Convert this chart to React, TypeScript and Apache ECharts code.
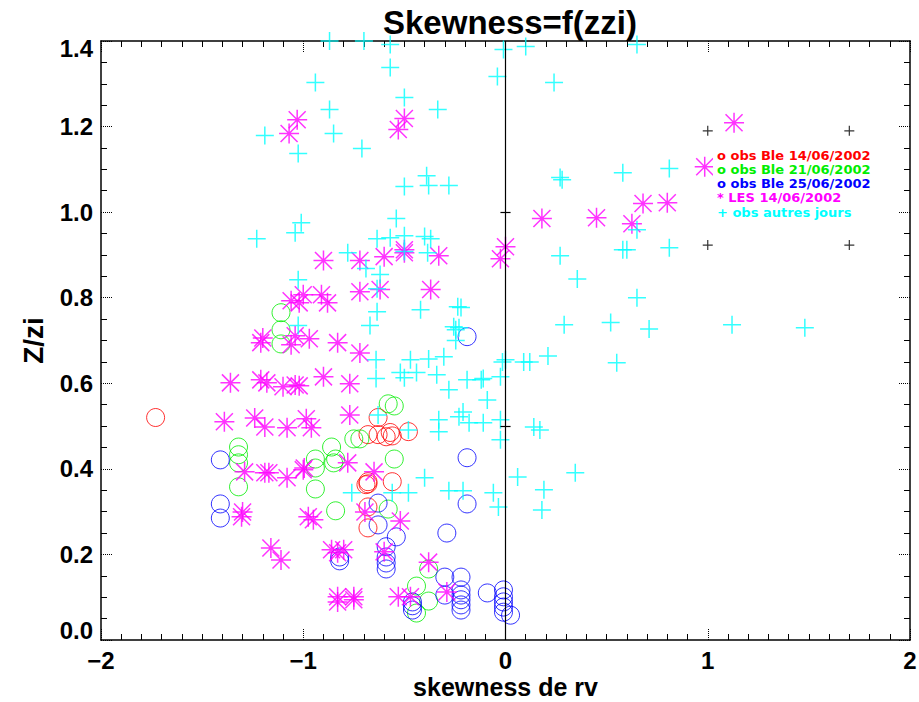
import React, { useEffect, useRef } from 'react';
import * as echarts from 'echarts';

const TITLE = 'Skewness=f(zzi)';
const X_NAME = 'skewness de rv';
const Y_NAME = 'Z/zi';
const X_MIN = -2, X_MAX = 2, X_STEP = 1;
const Y_MIN = 0, Y_MAX = 1.4, Y_STEP = 0.2;

const obsBle14: number[][] = [
  [-1.73, 0.52], [-0.63, 0.52], [-0.68, 0.48], [-0.63, 0.48], [-0.57, 0.485], [-0.56, 0.477],
  [-0.59, 0.475], [-0.48, 0.487], [-0.68, 0.37], [-0.69, 0.363], [-0.68, 0.365], [-0.56, 0.37],
  [-0.68, 0.311], [-0.68, 0.262],
];

const obsBle21: number[][] = [
  [-1.11, 0.765], [-1.11, 0.725], [-1.11, 0.692], [-1.32, 0.451], [-1.32, 0.433], [-1.32, 0.414],
  [-1.32, 0.358], [-0.94, 0.423], [-0.94, 0.402], [-0.94, 0.353], [-0.86, 0.451], [-0.84, 0.423],
  [-0.85, 0.414], [-0.84, 0.302], [-0.75, 0.47], [-0.72, 0.47], [-0.58, 0.552], [-0.55, 0.547],
  [-0.55, 0.423], [-0.58, 0.306], [-0.38, 0.166], [-0.44, 0.126], [-0.38, 0.091], [-0.44, 0.063],
];

const obsBle25: number[][] = [
  [-1.41, 0.421], [-1.41, 0.318], [-1.41, 0.285], [-0.19, 0.709], [-0.19, 0.426], [-0.19, 0.318],
  [-0.29, 0.25], [-0.63, 0.32], [-0.63, 0.269], [-0.54, 0.241], [-0.59, 0.218], [-0.59, 0.194],
  [-0.59, 0.18], [-0.59, 0.166], [-0.82, 0.194], [-0.82, 0.185], [-0.3, 0.147], [-0.22, 0.147],
  [-0.3, 0.105], [-0.22, 0.117], [-0.22, 0.105], [-0.22, 0.094], [-0.22, 0.082], [-0.22, 0.07],
  [-0.09, 0.11], [-0.01, 0.117], [-0.01, 0.101], [-0.01, 0.089], [-0.01, 0.077], [-0.01, 0.065],
  [0.025, 0.058], [-0.46, 0.089], [-0.46, 0.08], [-0.46, 0.07],
];

const les14: number[][] = [
  [-1.03, 1.216], [-1.07, 1.184], [-0.5, 1.219], [-0.53, 1.193], [-0.9, 0.887], [-0.72, 0.887],
  [-0.6, 0.896], [-0.5, 0.912], [-0.5, 0.905], [-0.33, 0.898], [0.0, 0.919], [-0.025, 0.891],
  [-1.06, 0.793], [-1.02, 0.788], [-1.0, 0.807], [-0.91, 0.807], [-0.88, 0.788], [-0.72, 0.814],
  [-0.62, 0.819], [-0.37, 0.819], [-1.2, 0.706], [-1.21, 0.695], [-1.04, 0.711], [-1.06, 0.69],
  [-0.97, 0.704], [-0.83, 0.695], [-0.72, 0.671], [-1.36, 0.601], [-1.21, 0.608], [-1.18, 0.601],
  [-1.1, 0.592], [-1.04, 0.596], [-1.02, 0.594], [-0.9, 0.615], [-0.77, 0.599], [-1.39, 0.51],
  [-1.24, 0.519], [-1.19, 0.498], [-1.08, 0.496], [-0.985, 0.517], [-0.96, 0.496], [-0.77, 0.526],
  [-1.29, 0.393], [-1.19, 0.391], [-1.17, 0.391], [-1.08, 0.379], [-1.0, 0.398], [-0.995, 0.402],
  [-0.78, 0.414], [-0.65, 0.393], [-1.3, 0.299], [-1.305, 0.288], [-0.975, 0.288], [-0.95, 0.281],
  [-0.695, 0.299], [-0.52, 0.278], [-1.16, 0.215], [-1.11, 0.187], [-0.86, 0.211], [-0.83, 0.204],
  [-0.8, 0.211], [-0.6, 0.206], [-0.38, 0.182], [-0.83, 0.101], [-0.75, 0.101], [-0.83, 0.089],
  [-0.75, 0.094], [-0.53, 0.101], [-0.47, 0.101], [-0.29, 0.112], [0.18, 0.985], [0.45, 0.987],
  [0.68, 1.02], [0.8, 1.022], [0.625, 0.973], [0.985, 1.106], [1.13, 1.209],
];

const autresJours: number[][] = [
  [-0.87, 1.4], [-0.7, 1.4], [-0.57, 1.392], [-0.57, 1.338], [-0.01, 1.38], [-0.04, 1.317],
  [0.1, 1.387], [0.65, 1.392], [0.24, 1.303], [-0.94, 1.303], [-0.5, 1.268], [-0.87, 1.24],
  [-0.335, 1.24], [-1.19, 1.179], [-0.85, 1.184], [-1.025, 1.137], [-0.71, 1.149], [-0.39, 1.085],
  [-0.5, 1.06], [-0.38, 1.062], [-0.28, 1.062], [-1.01, 0.975], [-1.04, 0.952], [-1.23, 0.938],
  [-0.54, 0.985], [-0.78, 0.905], [-0.635, 0.938], [-0.57, 0.94], [-0.5, 0.945], [-0.4, 0.943],
  [-0.37, 0.938], [-0.5, 0.908], [-0.385, 0.905], [-0.69, 0.868], [-0.62, 0.854], [-1.025, 0.842],
  [-0.635, 0.821], [-0.635, 0.767], [-0.42, 0.772], [-0.236, 0.779], [-0.22, 0.777], [-0.67, 0.735],
  [-1.025, 0.735], [-0.256, 0.732], [-0.23, 0.73], [-0.246, 0.7], [-0.246, 0.725], [-0.64, 0.655],
  [-0.64, 0.611], [-0.47, 0.655], [-0.38, 0.657], [-0.305, 0.662], [-0.52, 0.625], [-0.5, 0.613],
  [-0.44, 0.625], [-0.34, 0.62], [-0.19, 0.608], [-0.12, 0.608], [-0.11, 0.611], [-0.025, 0.615],
  [-0.015, 0.65], [-0.28, 0.585], [-0.09, 0.561], [-0.63, 0.526], [-0.48, 0.491], [-0.33, 0.515],
  [-0.33, 0.487], [-0.23, 0.522], [-0.21, 0.533], [-0.18, 0.508], [-0.11, 0.508], [-0.025, 0.515],
  [-0.025, 0.468], [-0.4, 0.379], [0.06, 0.381], [-0.76, 0.344], [-0.56, 0.344], [-0.48, 0.344],
  [-0.28, 0.349], [-0.21, 0.349], [-0.06, 0.344], [-0.035, 0.311], [0.27, 1.081], [0.28, 1.076],
  [0.58, 1.092], [0.81, 1.102], [0.27, 0.898], [0.58, 0.912], [0.6, 0.912], [0.65, 0.959],
  [0.81, 0.917], [0.355, 0.844], [0.65, 0.8], [0.29, 0.737], [0.52, 0.742], [0.71, 0.727],
  [1.12, 0.737], [1.48, 0.73], [0.21, 0.664], [0.09, 0.65], [0.12, 0.65], [0.0, 0.655],
  [0.55, 0.648], [0.17, 0.491], [0.14, 0.498], [0.19, 0.351], [0.18, 0.304], [0.345, 0.391],
];

const legendCorners: number[][] = [[1.0, 1.19], [1.7, 1.19], [1.0, 0.923], [1.7, 0.923]];
const zeroAxisTicks: number[] = [0.5, 1.0];

const legendLines = [
  { text: 'o obs Ble 14/06/2002', color: '#ff0000' },
  { text: 'o obs Ble 21/06/2002', color: '#00ee00' },
  { text: 'o obs Ble 25/06/2002', color: '#0000ff' },
  { text: '* LES 14/06/2002', color: '#ff00ff' },
  { text: '+ obs autres jours', color: '#00ffff' },
];

const FONT = "'Liberation Sans', Arial, sans-serif";
const PLUS = 'path://M10,0 L10,20 M0,10 L20,10';
const STAR = 'path://M10,0 L10,20 M0,10 L20,10 M1.5,1.5 L18.5,18.5 M1.5,18.5 L18.5,1.5';

export default function App() {
  const ref = useRef<HTMLDivElement>(null);
  useEffect(() => {
    if (!ref.current) return;
    const chart = echarts.init(ref.current, null, { renderer: 'svg' });
    const tickStyle = { color: '#000', width: 1 };
    const baseX = {
      type: 'value', min: X_MIN, max: X_MAX, interval: X_STEP,
      splitLine: { show: false },
      axisLine: { show: true, onZero: false, lineStyle: { color: '#000', width: 1.5 } },
      axisTick: { show: true, inside: true, length: 12, lineStyle: { color: '#000', width: 1, type: 'dotted' } },
      minorTick: { show: true, splitNumber: 10, length: 6, lineStyle: tickStyle },
    };
    const baseY = {
      type: 'value', min: Y_MIN, max: Y_MAX, interval: Y_STEP,
      splitLine: { show: false },
      axisLine: { show: true, onZero: false, lineStyle: { color: '#000', width: 1.5 } },
      axisTick: { show: true, inside: true, length: 12, lineStyle: { color: '#000', width: 1, type: 'dotted' } },
      minorTick: { show: true, splitNumber: 4, length: 6, lineStyle: tickStyle },
    };
    const labelStyle = { color: '#000', fontFamily: FONT, fontWeight: 'bold', fontSize: 24 };
    const option: any = {
      animation: false,
      backgroundColor: '#ffffff',
      title: {
        text: TITLE, left: 505, top: 1, textAlign: 'center',
        textStyle: { color: '#000', fontFamily: FONT, fontWeight: 'bold', fontSize: 33 },
      },
      grid: { left: 101, right: 9, top: 41, bottom: 62, outerBoundsMode: 'none', containLabel: false },
      xAxis: [
        {
          ...baseX, position: 'bottom',
          axisLabel: {
            ...labelStyle, margin: 9, lineHeight: 22,
            formatter: (v: number) => (v < 0 ? '\u2212' + Math.abs(v) : String(v)),
          },
          name: X_NAME, nameLocation: 'middle', nameGap: 35, nameMoveOverlap: false,
          nameTextStyle: { ...labelStyle, fontSize: 25, lineHeight: 24 },
        },
        { ...baseX, position: 'top', axisLabel: { show: false } },
      ],
      yAxis: [
        {
          ...baseY, position: 'left',
          axisLabel: {
            ...labelStyle, margin: 8,
            formatter: (v: number) => {
              const s = v.toFixed(1);
              if (v >= Y_MAX - 1e-9) return '{hi|' + s + '}';
              if (v <= Y_MIN + 1e-9) return '{lo|' + s + '}';
              return s;
            },
            rich: {
              hi: { ...labelStyle, padding: [14, 0, 0, 0] },
              lo: { ...labelStyle, padding: [0, 0, 20, 0] },
            },
          },
          name: Y_NAME, nameLocation: 'middle', nameGap: 54, nameRotate: 90, nameMoveOverlap: false,
          nameTextStyle: { ...labelStyle, fontSize: 28 },
        },
        { ...baseY, position: 'right', axisLabel: { show: false } },
      ],
      series: [
        {
          type: 'scatter', name: 'obs Ble 14/06/2002', data: obsBle14, symbol: 'circle', symbolSize: 18,
          itemStyle: { color: 'transparent', borderColor: '#ff0000', borderWidth: 1 },
          markLine: {
            silent: true, symbol: 'none', animation: false, label: { show: false },
            lineStyle: { color: '#000', width: 1.2, type: 'solid' },
            data: [
              { xAxis: 0 },
              ...zeroAxisTicks.map((t) => [{ coord: [-0.025, t] }, { coord: [0.025, t] }]),
            ],
          },
        },
        {
          type: 'scatter', name: 'obs Ble 21/06/2002', data: obsBle21, symbol: 'circle', symbolSize: 18,
          itemStyle: { color: 'transparent', borderColor: '#00ee00', borderWidth: 1 },
        },
        {
          type: 'scatter', name: 'obs Ble 25/06/2002', data: obsBle25, symbol: 'circle', symbolSize: 18,
          itemStyle: { color: 'transparent', borderColor: '#0000ff', borderWidth: 1 },
        },
        {
          type: 'scatter', name: 'LES 14/06/2002', data: les14, symbol: STAR, symbolSize: 20,
          itemStyle: { color: 'transparent', borderColor: '#ff00ff', borderWidth: 1.5 },
        },
        {
          type: 'scatter', name: 'obs autres jours', data: autresJours, symbol: PLUS, symbolSize: 18,
          itemStyle: { color: 'transparent', borderColor: '#00ffff', borderWidth: 1.5 },
        },
        {
          type: 'scatter', name: 'corners', data: legendCorners, symbol: PLUS, symbolSize: 10,
          itemStyle: { color: 'transparent', borderColor: '#000', borderWidth: 1.2 },
        },
      ],
      graphic: [
        { type: 'rect', z: 100, shape: { x: 713, y: 147, width: 160, height: 74 }, style: { fill: '#fff' } },
        ...legendLines.map((l, i) => ({
          type: 'text', z: 101, x: 717, y: 155 + i * 14.3,
          style: { text: l.text, fill: l.color, font: "bold 13px 'DejaVu Sans', sans-serif", verticalAlign: 'middle' },
        })),
      ],
    };
    chart.setOption(option);
    return () => chart.dispose();
  }, []);
  return <div ref={ref} style={{ position: 'fixed', left: 0, top: 0, width: 919, height: 702 }} />;
}
